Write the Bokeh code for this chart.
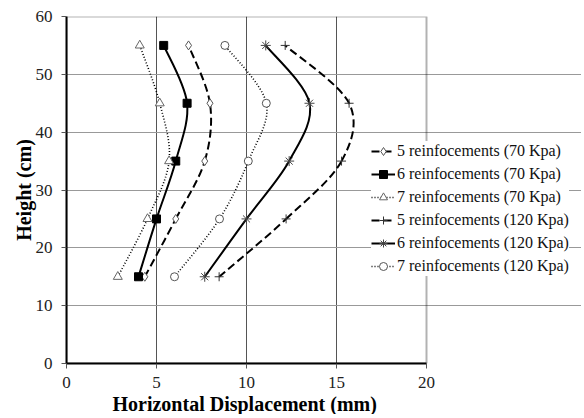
from bokeh.plotting import figure
from bokeh.models import Legend, LegendItem, Range1d, FixedTicker, BoxAnnotation, Title
from bokeh.embed import file_html
from bokeh.resources import INLINE

# ---- data ----
heights = [15, 25, 35, 45, 55]
r5_70 = [4.35, 6.07, 7.68, 7.97, 6.78]
r6_70 = [4.0, 5.0, 6.07, 6.7, 5.4]
r7_70 = [2.85, 4.5, 5.7, 5.18, 4.07]
r5_120 = [8.48, 12.2, 15.28, 15.7, 12.15]
r6_120 = [7.68, 10.0, 12.37, 13.5, 11.07]
r7_120 = [6.0, 8.5, 10.1, 11.1, 8.8]
labels = ["5 reinfocements (70 Kpa)", "6 reinfocements (70 Kpa)", "7 reinfocements (70 Kpa)",
          "5 reinfocements (120 Kpa)", "6 reinfocements (120 Kpa)", "7 reinfocements (120 Kpa)"]
x_ticks = [0, 5, 10, 15, 20]
y_ticks = [0, 10, 20, 30, 40, 50, 60]
X_AXIS_MAX = 20
Y_AXIS_MAX = 60

FONT = "Liberation Serif"

# The plotting box is 360 px for 0..20; the frame is widened so the legend
# (which overlaps the box's right edge) is not clipped.
BOX_W = 360
FRAME_W = 515
p = figure(frame_width=FRAME_W, frame_height=347, output_backend="svg", toolbar_location=None,
           x_range=Range1d(0, X_AXIS_MAX * FRAME_W / BOX_W), y_range=Range1d(0, Y_AXIS_MAX),
           min_border_left=66, min_border_right=0, min_border_top=16, min_border_bottom=30)
p.outline_line_color = None

p.xaxis.ticker = FixedTicker(ticks=x_ticks)
p.yaxis.ticker = FixedTicker(ticks=y_ticks)
p.xaxis.bounds = (0, X_AXIS_MAX)
for ax in (p.xaxis[0], p.yaxis[0]):
    ax.axis_line_width = 2
    ax.axis_line_color = "black"
    ax.major_tick_line_color = "#555"
    ax.major_tick_in = 0
    ax.major_tick_out = 5
    ax.minor_tick_line_color = None
    ax.major_label_text_font = FONT
    ax.major_label_text_font_size = "17px"
    ax.major_label_text_color = "#222"
    ax.axis_label_text_font = FONT
    ax.axis_label_text_font_style = "bold"
    ax.axis_label_text_font_size = "20px"
    ax.axis_label_text_color = "black"
p.yaxis.axis_label = "Height (cm)"
p.xaxis.major_label_standoff = 8
p.yaxis.major_label_standoff = 9
p.yaxis.axis_label_standoff = -2

# x-axis title, centred under the 0..20 box
p.add_layout(Title(text="Horizontal Displacement (mm)", align="left", offset=46, standoff=0,
                   text_font=FONT, text_font_style="bold", text_font_size="20px",
                   text_color="black"), "below")

p.xgrid.ticker = FixedTicker(ticks=x_ticks[1:-1])
p.ygrid.ticker = FixedTicker(ticks=y_ticks[1:-1])
p.ygrid.bounds = (0, X_AXIS_MAX)
p.xgrid.grid_line_color = "#555"
p.ygrid.grid_line_color = "#999"
p.xgrid.grid_line_width = 1
p.ygrid.grid_line_width = 1

# plot-area border (0..20 x 0..60)
p.add_layout(BoxAnnotation(left=0, right=X_AXIS_MAX, bottom=0, top=Y_AXIS_MAX,
                           fill_color=None, fill_alpha=0, line_color="black", line_width=2))


def smooth(xs, ys, t=1.0 / 6):
    n = len(xs)
    x0, y0, x1, y1, cx0, cy0, cx1, cy1 = [], [], [], [], [], [], [], []
    for i in range(n - 1):
        im = max(i - 1, 0)
        ip2 = min(i + 2, n - 1)
        x0.append(xs[i]); y0.append(ys[i])
        x1.append(xs[i + 1]); y1.append(ys[i + 1])
        cx0.append(xs[i] + (xs[i + 1] - xs[im]) * t)
        cy0.append(ys[i] + (ys[i + 1] - ys[im]) * t)
        cx1.append(xs[i + 1] - (xs[ip2] - xs[i]) * t)
        cy1.append(ys[i + 1] - (ys[ip2] - ys[i]) * t)
    return dict(x0=x0, y0=y0, x1=x1, y1=y1, cx0=cx0, cy0=cy0, cx1=cx1, cy1=cy1)


series = [r5_70, r6_70, r7_70, r5_120, r6_120, r7_120]
line_styles = [("8 4", 2), ("solid", 2), ("1 2", 1.6), ("8 4", 2), ("solid", 2), ("1 2", 1.6)]
markers = [
    dict(marker="diamond", size=9, fill_color="white", line_color="#555"),
    dict(marker="square", size=8, fill_color="black", line_color="black"),
    dict(marker="triangle", size=9, fill_color="white", line_color="#666"),
    dict(marker="cross", size=9, fill_color=None, line_color="#333"),
    dict(marker="asterisk", size=10, fill_color=None, line_color="#444"),
    dict(marker="circle", size=8, fill_color="white", line_color="#555"),
]

items = []
for xs, (dash, lw), mk, lab in zip(series, line_styles, markers, labels):
    b = p.bezier(line_color="black", line_width=lw, line_dash=dash, **smooth(xs, heights))
    s = p.scatter(xs, heights, line_width=1, **mk)
    items.append(LegendItem(label=lab, renderers=[b, s]))

legend = Legend(items=items, location=(305, 87), padding=9, margin=0, spacing=3,
                glyph_width=24, glyph_height=20, label_height=20, label_standoff=2,
                label_text_font=FONT, label_text_font_size="16px", label_text_color="#111",
                background_fill_color="white", background_fill_alpha=1.0,
                border_line_color=None)
p.add_layout(legend, "center")

open("out.html", "w").write(file_html(p, INLINE))
